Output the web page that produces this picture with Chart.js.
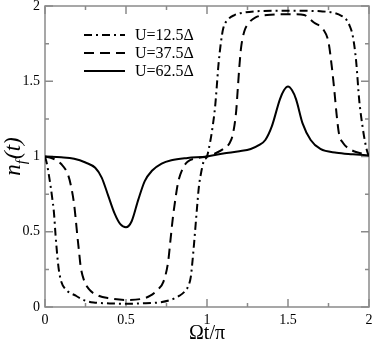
<!DOCTYPE html>
<html>
<head>
<meta charset="utf-8">
<script src="https://cdn.jsdelivr.net/npm/chart.js@4.4.0/dist/chart.umd.min.js"></script>
<style>
  html, body { margin: 0; padding: 0; background: #fff; }
  #wrap { width: 374px; height: 343px; position: relative; }
</style>
</head>
<body>
<div id="wrap"><canvas id="chart-nf"></canvas></div>
<script>
(function() {
    "use strict";

    // U = 12.5 Delta (dash-dot)
    var t12 = [0, 0.012, 0.025, 0.035, 0.045, 0.055, 0.065, 0.075, 0.085, 0.1,
        0.125, 0.19, 0.25, 0.3, 0.4, 0.5, 0.6, 0.7, 0.77, 0.83,
        0.86, 0.885, 0.9, 0.91, 0.92, 0.93, 0.94, 0.95, 0.965, 0.98,
        1.0, 1.02, 1.035, 1.05, 1.06, 1.07, 1.085, 1.1, 1.13, 1.17,
        1.22, 1.3, 1.4, 1.5, 1.6, 1.7, 1.78, 1.83, 1.86, 1.88,
        1.9, 1.92, 1.94, 1.96, 1.975, 1.99, 2.0]
    var n12 = [1.0, 0.95, 0.87, 0.8, 0.72, 0.63, 0.48, 0.35, 0.25, 0.17,
        0.12, 0.075, 0.042, 0.03, 0.024, 0.022, 0.024, 0.03, 0.045, 0.075,
        0.1, 0.14, 0.2, 0.3, 0.42, 0.55, 0.68, 0.8, 0.9, 0.97,
        1.0, 1.1, 1.2, 1.33, 1.46, 1.6, 1.75, 1.85, 1.91, 1.94,
        1.955, 1.965, 1.968, 1.968, 1.968, 1.965, 1.955, 1.935, 1.91, 1.87,
        1.8, 1.64, 1.37, 1.2, 1.1, 1.03, 1.0]

    // U = 37.5 Delta (dashed)
    var t37 = [0, 0.04, 0.1, 0.145, 0.165, 0.18, 0.19, 0.2, 0.21, 0.22,
        0.24, 0.27, 0.33, 0.4, 0.5, 0.6, 0.65, 0.7, 0.73, 0.76,
        0.775, 0.79, 0.8, 0.82, 0.85, 0.88, 0.94, 1.0, 1.05, 1.1,
        1.14, 1.16, 1.18, 1.19, 1.2, 1.21, 1.23, 1.26, 1.3, 1.37,
        1.45, 1.55, 1.6, 1.66, 1.72, 1.75, 1.77, 1.785, 1.8, 1.815,
        1.84, 1.88, 1.92, 2.0]
    var n37 = [1.0, 0.99, 0.95, 0.87, 0.78, 0.68, 0.58, 0.47, 0.37, 0.27,
        0.18, 0.12, 0.075, 0.057, 0.047, 0.055, 0.075, 0.12, 0.165, 0.3,
        0.45, 0.6, 0.68, 0.82, 0.92, 0.965, 0.99, 1.0, 1.02, 1.05,
        1.09, 1.15, 1.3, 1.45, 1.6, 1.72, 1.83, 1.89, 1.925, 1.94,
        1.945, 1.945, 1.94, 1.89, 1.84, 1.76, 1.6, 1.45, 1.28, 1.15,
        1.09, 1.05, 1.03, 1.01]

    // U = 62.5 Delta (solid)
    var t62 = [0, 0.1, 0.18, 0.25, 0.31, 0.35, 0.39, 0.43, 0.465, 0.5,
        0.535, 0.575, 0.615, 0.66, 0.72, 0.78, 0.88, 1.0, 1.1, 1.2,
        1.27, 1.32, 1.36, 1.4, 1.45, 1.475, 1.5, 1.525, 1.55, 1.59,
        1.64, 1.7, 1.8, 1.9, 2.0]
    var n62 = [1.0, 0.995, 0.985, 0.96, 0.925, 0.86, 0.74, 0.62, 0.55, 0.53,
        0.57, 0.71, 0.835, 0.905, 0.953, 0.975, 0.99, 1.0, 1.02, 1.035,
        1.05, 1.075, 1.11, 1.2, 1.38, 1.44, 1.465, 1.44, 1.38, 1.22,
        1.11, 1.05, 1.025, 1.015, 1.007]

    var seriesLabels = ['U=12.5\u0394', 'U=37.5\u0394', 'U=62.5\u0394']
    var xTicks = [0, 0.5, 1, 1.5, 2]
    var yTicks = [0, 0.5, 1, 1.5, 2]

    var serif = '"Liberation Serif", "Times New Roman", serif'
    var frameColor = '#8a8a8a'

    function pts(xs, ys) {
        return xs.map(function(x, i) { return { x: x, y: ys[i] } })
    }

    function fmt(v) { return String(v) }

    // frame + inward ticks (major and minor) on all four sides
    var framePlugin = {
        id: 'frame',
        beforeDatasetsDraw: function(chart) {
            var ctx = chart.ctx, a = chart.chartArea
            var xs = chart.scales.x, ys = chart.scales.y
            ctx.save()
            ctx.strokeStyle = frameColor
            ctx.lineWidth = 1.5
            ctx.strokeRect(a.left, a.top, a.right - a.left, a.bottom - a.top)
            for (var v = 0; v <= 2.0001; v += 0.25) {
                var major = Math.abs(v * 2 - Math.round(v * 2)) < 1e-6
                var len = major ? 8 : 4
                var px = xs.getPixelForValue(v)
                var py = ys.getPixelForValue(v)
                ctx.beginPath()
                ctx.moveTo(px, a.bottom); ctx.lineTo(px, a.bottom - len)
                ctx.moveTo(px, a.top); ctx.lineTo(px, a.top + len)
                ctx.moveTo(a.left, py); ctx.lineTo(a.left + len, py)
                ctx.moveTo(a.right, py); ctx.lineTo(a.right - len, py)
                ctx.stroke()
            }
            ctx.restore()
        },
        afterDraw: function(chart) {
            var ctx = chart.ctx, a = chart.chartArea
            ctx.save()
            ctx.fillStyle = '#000'

            // legend
            var lx = 84, ly = 35
            chart.data.datasets.forEach(function(ds, i) {
                var y = ly + i * 18
                ctx.strokeStyle = '#000'
                ctx.lineWidth = 2
                ctx.setLineDash(ds.borderDash || [])
                ctx.beginPath()
                ctx.moveTo(lx, y); ctx.lineTo(lx + 41, y)
                ctx.stroke()
                ctx.setLineDash([])
                ctx.font = '16px ' + serif
                ctx.textAlign = 'left'
                ctx.textBaseline = 'middle'
                ctx.fillText(ds.label, lx + 51, y + 1)
            })

            // x title
            ctx.font = '20px ' + serif
            ctx.textAlign = 'center'
            ctx.textBaseline = 'alphabetic'
            ctx.fillText('\u03A9t/\u03C0', (a.left + a.right) / 2, 339)

            // y title n_f(t)
            ctx.translate(20, (a.top + a.bottom) / 2)
            ctx.rotate(-Math.PI / 2)
            ctx.textAlign = 'left'
            var f1 = 'italic 23px ' + serif, f2 = 'italic 15px ' + serif
            ctx.font = f1; var w1 = ctx.measureText('n').width
            ctx.font = f2; var w2 = ctx.measureText('f').width
            ctx.font = f1; var w3 = ctx.measureText('(t)').width
            var x0 = -(w1 + w2 + 1 + w3) / 2
            ctx.font = f1; ctx.fillText('n', x0, 0)
            ctx.font = f2; ctx.fillText('f', x0 + w1, 6)
            ctx.font = f1; ctx.fillText('(t)', x0 + w1 + w2 + 1, 0)
            ctx.restore()
        }
    }

    var canvas = document.getElementById('chart-nf').getContext('2d')

    new Chart(canvas, {
        type: 'line',
        data: {
            datasets: [{
                label: seriesLabels[0],
                data: pts(t12, n12),
                borderColor: '#000',
                borderWidth: 2,
                borderDash: [8, 4, 2, 4],
                pointRadius: 0,
                cubicInterpolationMode: 'monotone',
                fill: false
            }, {
                label: seriesLabels[1],
                data: pts(t37, n37),
                borderColor: '#000',
                borderWidth: 2,
                borderDash: [10, 6],
                pointRadius: 0,
                cubicInterpolationMode: 'monotone',
                fill: false
            }, {
                label: seriesLabels[2],
                data: pts(t62, n62),
                borderColor: '#000',
                borderWidth: 2,
                pointRadius: 0,
                cubicInterpolationMode: 'monotone',
                fill: false
            }]
        },
        options: {
            responsive: true,
            maintainAspectRatio: false,
            animation: false,
            layout: { padding: { top: 6, right: 5, left: 0, bottom: 0 } },
            plugins: {
                legend: { display: false },
                tooltip: { enabled: false }
            },
            scales: {
                x: {
                    type: 'linear',
                    min: 0,
                    max: 2,
                    afterFit: function(s) { s.height = 36; s.paddingLeft = 0; s.paddingRight = 0 },
                    afterBuildTicks: function(s) { s.ticks = xTicks.map(function(v) { return { value: v } }) },
                    grid: { drawOnChartArea: false, drawTicks: false },
                    border: { display: false },
                    ticks: {
                        color: '#000',
                        padding: 5,
                        maxRotation: 0,
                        callback: fmt,
                        font: { family: serif, size: 14 }
                    }
                },
                y: {
                    type: 'linear',
                    min: 0,
                    max: 2,
                    afterFit: function(s) { s.width = 45; s.paddingTop = 0; s.paddingBottom = 0 },
                    afterBuildTicks: function(s) { s.ticks = yTicks.map(function(v) { return { value: v } }) },
                    grid: { drawOnChartArea: false, drawTicks: false },
                    border: { display: false },
                    ticks: {
                        color: '#000',
                        padding: 5,
                        callback: fmt,
                        font: { family: serif, size: 14 }
                    }
                }
            }
        },
        plugins: [framePlugin]
    })
})();
</script>
</body>
</html>
